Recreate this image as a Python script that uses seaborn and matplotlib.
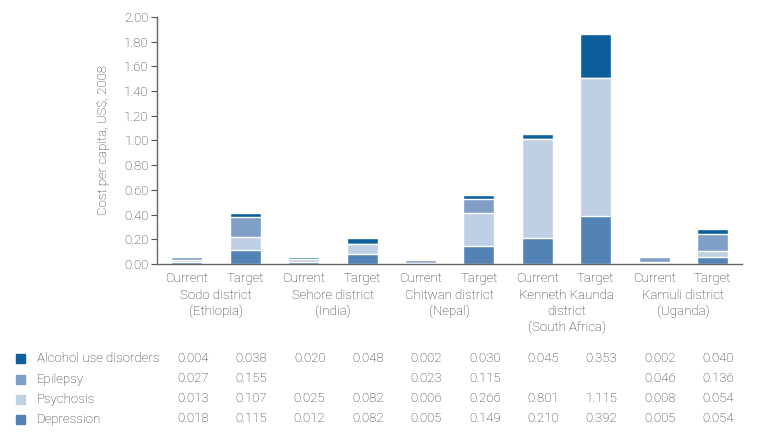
import numpy as np
import pandas as pd
import matplotlib.pyplot as plt
import matplotlib.transforms as mtransforms
from matplotlib.patches import Rectangle
import seaborn as sns

# data
districts = ["Sodo district\n(Ethiopia)", "Sehore district\n(India)", "Chitwan district\n(Nepal)",
             "Kenneth Kaunda\ndistrict\n(South Africa)", "Kamuli district\n(Uganda)"]
scenarios = ["Current", "Target"]
alcohol = [0.004, 0.038, 0.020, 0.048, 0.002, 0.030, 0.045, 0.353, 0.002, 0.040]
epilepsy = [0.027, 0.155, None, None, 0.023, 0.115, None, None, 0.046, 0.136]
psychosis = [0.013, 0.107, 0.025, 0.082, 0.006, 0.266, 0.801, 1.115, 0.008, 0.054]
depression = [0.018, 0.115, 0.012, 0.082, 0.005, 0.149, 0.210, 0.392, 0.005, 0.054]

series = ["Alcohol use disorders", "Epilepsy", "Psychosis", "Depression"]
colors = {"Alcohol use disorders": "#0c5f9a", "Epilepsy": "#7f9fc6",
          "Psychosis": "#bfcfe4", "Depression": "#5383b5"}

sns.set_style("white")
plt.rcParams['font.family'] = ['Roboto', 'DejaVu Sans']
plt.rcParams['font.weight'] = 'light'
txt = "#2a2a2a"
fs = 9.5

bars = [f"{d}|{s}" for d in districts for s in scenarios]
df = pd.DataFrame({"bar": bars,
                   "Depression": depression,
                   "Psychosis": psychosis,
                   "Epilepsy": [e if e is not None else 0 for e in epilepsy],
                   "Alcohol use disorders": alcohol})
# cumulative heights, stacked from depression at the bottom
df["c1"] = df["Depression"]
df["c2"] = df["c1"] + df["Psychosis"]
df["c3"] = df["c2"] + df["Epilepsy"]
df["c4"] = df["c3"] + df["Alcohol use disorders"]

fig = plt.figure(figsize=(7.59, 4.37), dpi=100)
ax = fig.add_axes([0.207, 0.396, 0.771, 0.565])

for col, name in [("c4", "Alcohol use disorders"), ("c3", "Epilepsy"),
                  ("c2", "Psychosis"), ("c1", "Depression")]:
    sns.barplot(data=df, x="bar", y=col, order=bars, color=colors[name],
                saturation=1, width=0.53, edgecolor="white", linewidth=1, ax=ax)

ax.set_ylim(0, 2.0)
ax.set_xlim(-0.51, len(bars) - 0.49)
ax.set_yticks(np.arange(0, 2.01, 0.2))
ax.set_yticklabels([f"{v:.2f}" for v in np.arange(0, 2.01, 0.2)], fontsize=fs, color=txt)
ax.set_xticks(range(len(bars)))
ax.set_xticklabels([s for d in districts for s in scenarios], fontsize=fs, color=txt)
ax.tick_params(axis="x", length=0, pad=6)
ax.tick_params(axis="y", length=4, width=0.8, color="#555555", pad=2, direction="out", left=True)
ax.set_xlabel("")
ax.set_ylabel("Cost per capita, US$, 2008", fontsize=fs, color=txt, labelpad=10,
              fontweight="light")
sns.despine(ax=ax)
for sp in ["left", "bottom"]:
    ax.spines[sp].set_color("#666666")
    ax.spines[sp].set_linewidth(1)

# district labels under the pairs
trans = mtransforms.blended_transform_factory(ax.transData, fig.transFigure)
for i, d in enumerate(districts):
    ax.text(2 * i + 0.5, 1 - 289 / 437, d, transform=trans, ha="center", va="top",
            fontsize=fs, color=txt, linespacing=1.3)

# table of values below the chart
rows_y = [358, 379, 399, 419]
for name, yy in zip(series, rows_y):
    fy = 1 - yy / 437
    fig.add_artist(Rectangle((16 / 759, fy - 4.5 / 437), 9 / 759, 9 / 437,
                             transform=fig.transFigure, color=colors[name]))
    fig.text(37 / 759, fy, name, fontsize=fs, color=txt, va="center", ha="left")
    vals = {"Alcohol use disorders": alcohol, "Epilepsy": epilepsy,
            "Psychosis": psychosis, "Depression": depression}[name]
    for i, v in enumerate(vals):
        if v is None:
            continue
        ax.text(i + 0.1, fy, f"{v:.3f}", transform=trans, ha="center", va="center",
                fontsize=fs, color=txt)

fig.savefig("out.png", dpi=100)
